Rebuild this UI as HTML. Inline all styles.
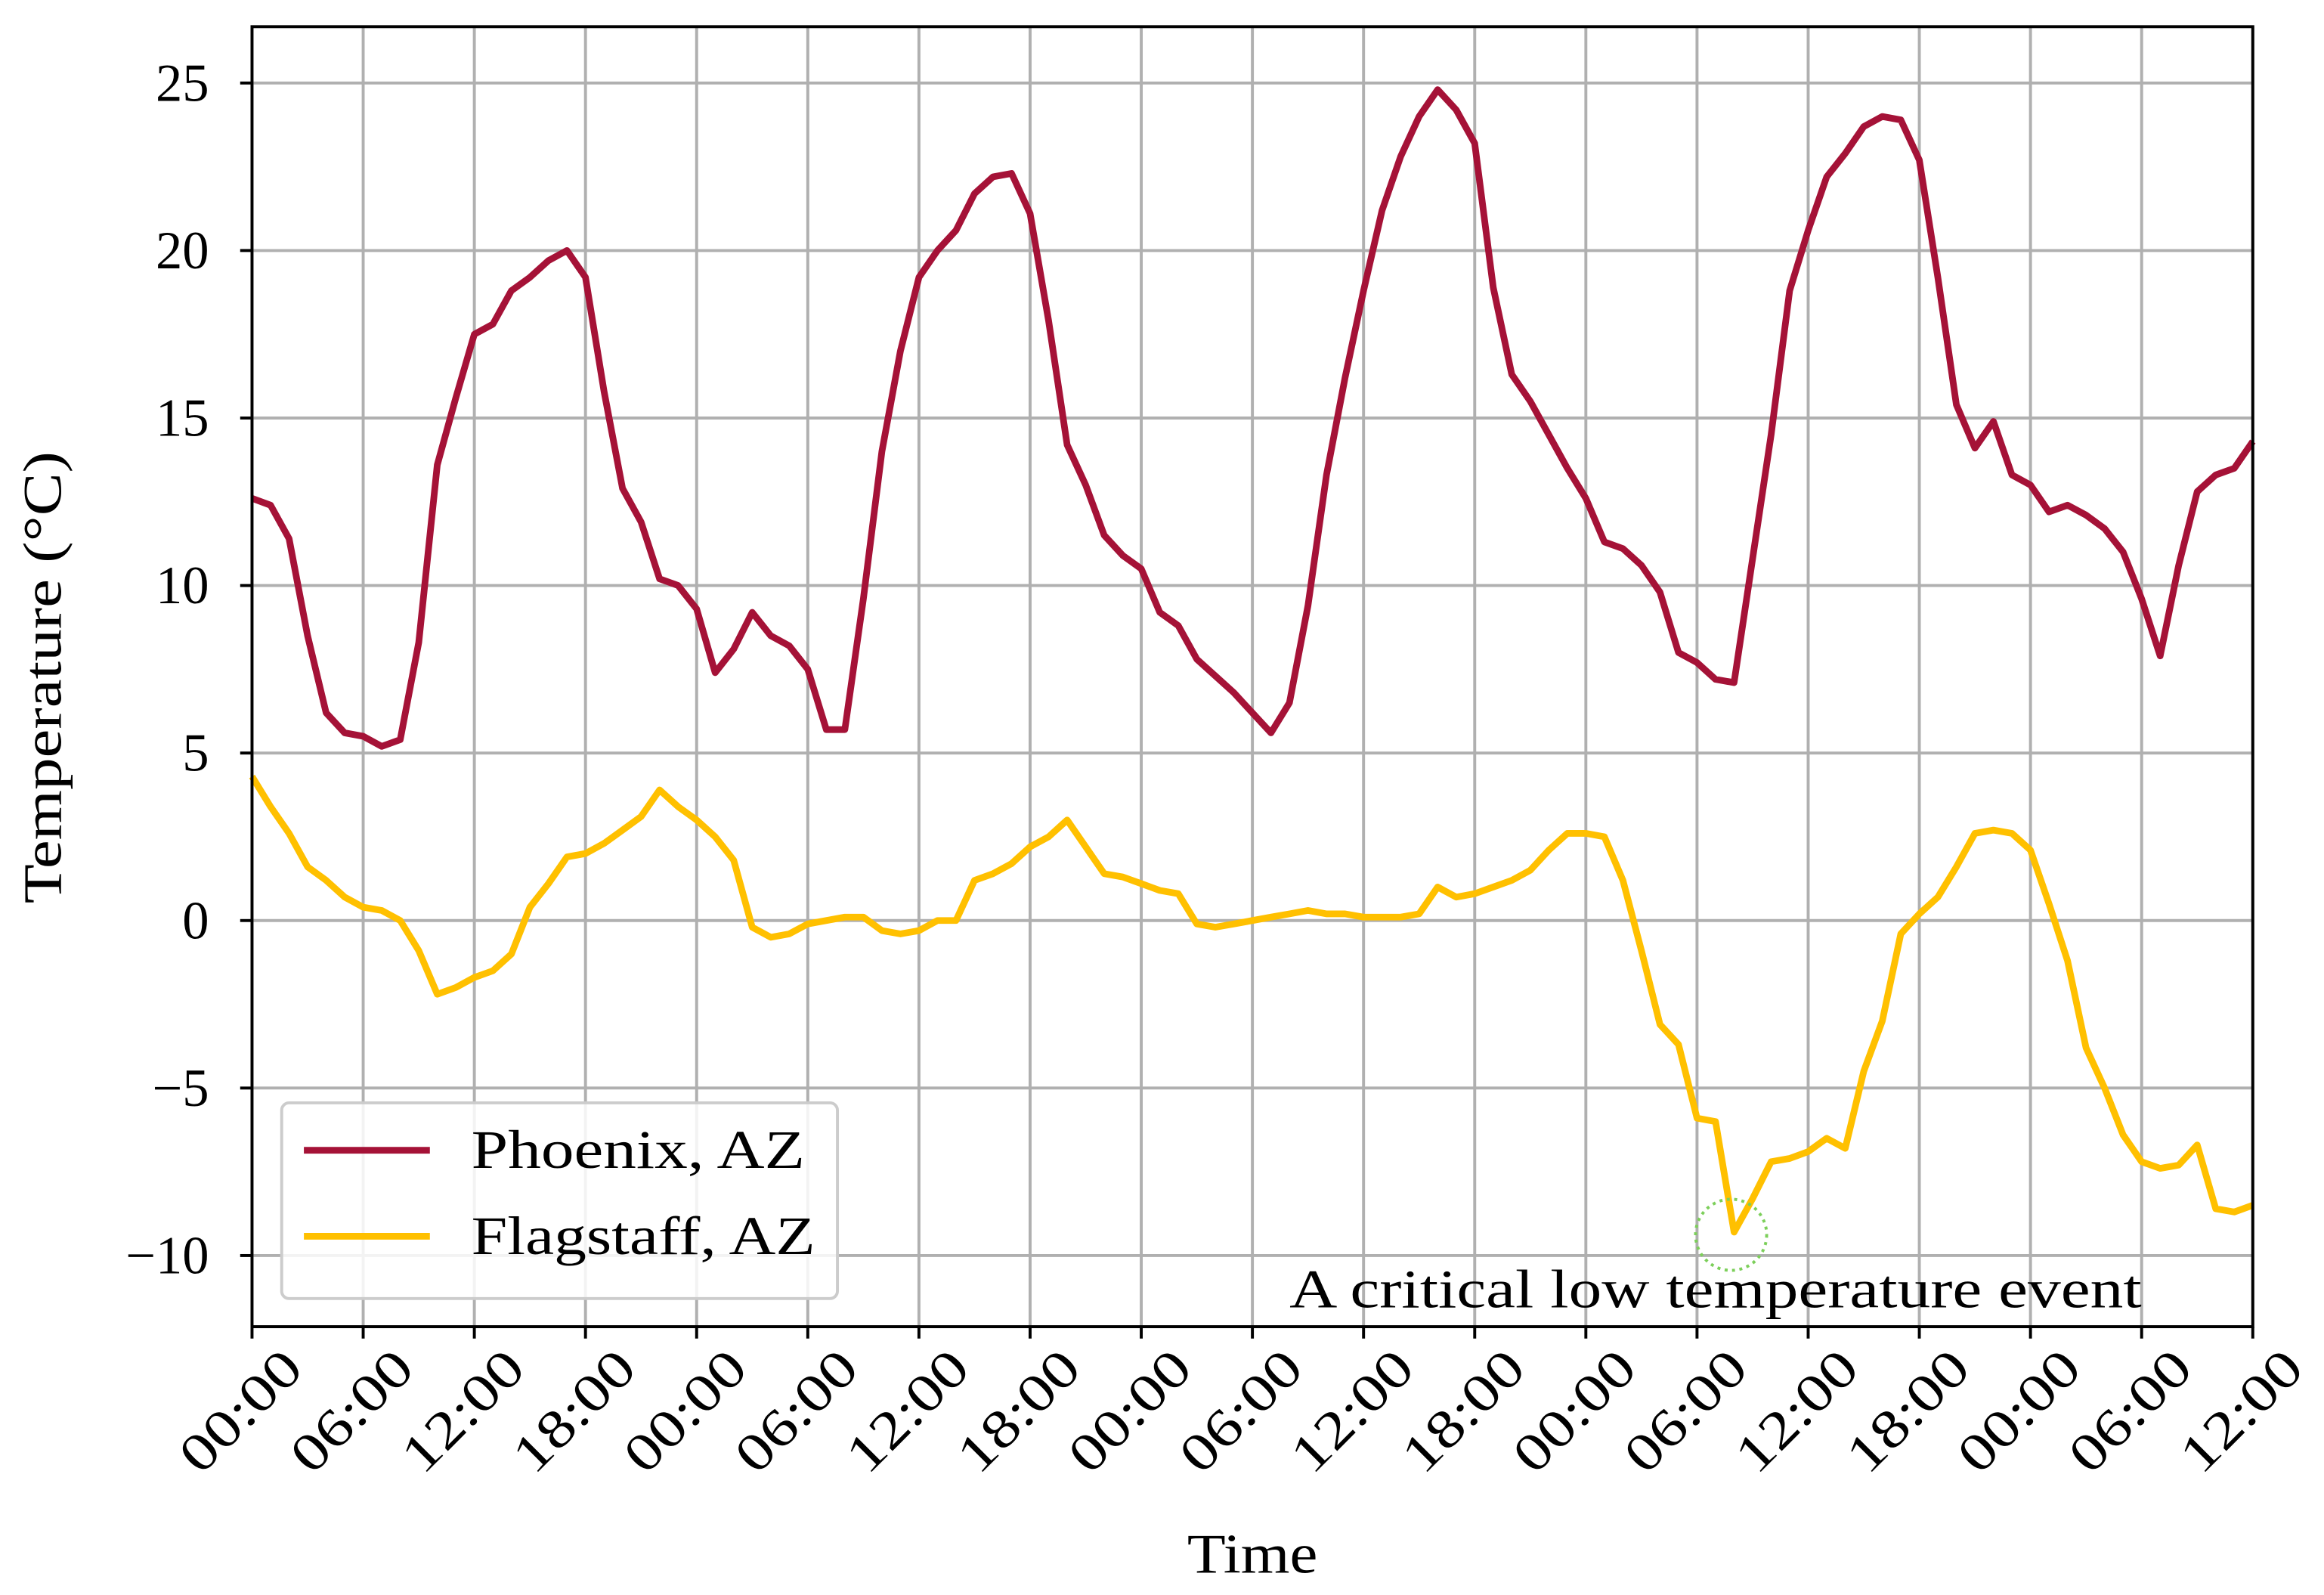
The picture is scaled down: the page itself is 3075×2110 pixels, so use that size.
<!DOCTYPE html>
<html><head><meta charset="utf-8"><style>
html,body{margin:0;padding:0;background:#fff;}
svg{display:block;font-family:"Liberation Serif",serif;}
</style></head><body>
<svg id="chart" width="3075" height="2110" viewBox="0 0 1568 1076" xmlns="http://www.w3.org/2000/svg">
<g id="grid"></g>
<g id="series"></g>
<rect x="170" y="18" width="1350" height="877" fill="none" stroke="#000" stroke-width="2"/>
<g id="axes"></g>
<text transform="translate(41,457) rotate(-90)" text-anchor="middle" font-size="37" textLength="305" lengthAdjust="spacingAndGlyphs">Temperature (°C)</text>
<text x="845" y="1061" text-anchor="middle" font-size="38" textLength="88" lengthAdjust="spacingAndGlyphs">Time</text>
<circle cx="1168" cy="833" r="24" fill="none" stroke="#7ccf5a" stroke-width="2" stroke-dasharray="2,3"/>
<text x="870" y="882" font-size="37" textLength="575" lengthAdjust="spacingAndGlyphs">A critical low temperature event</text>
<g>
<rect x="190" y="744" width="375" height="132" rx="5" fill="#fff" fill-opacity="0.85" stroke="#ccc" stroke-width="2"/>
<line x1="205" y1="776" x2="290" y2="776" stroke="#a51237" stroke-width="4.5"/>
<text x="318" y="788" font-size="37" textLength="225" lengthAdjust="spacingAndGlyphs">Phoenix, AZ</text>
<line x1="205" y1="834" x2="290" y2="834" stroke="#ffc000" stroke-width="4.5"/>
<text x="318" y="846" font-size="37" textLength="232" lengthAdjust="spacingAndGlyphs">Flagstaff, AZ</text>
</g>
</svg>
<script>
const xTickLabels = ["00:00","06:00","12:00","18:00","00:00","06:00","12:00","18:00","00:00","06:00","12:00","18:00","00:00","06:00","12:00","18:00","00:00","06:00","12:00"];
const yTicks = [-10,-5,0,5,10,15,20,25];
const phoenix = [12.6,12.4,11.4,8.5,6.2,5.6,5.5,5.2,5.4,8.3,13.6,15.6,17.5,17.8,18.8,19.2,19.7,20.0,19.2,15.8,12.9,11.9,10.2,10.0,9.3,7.4,8.1,9.2,8.5,8.2,7.5,5.7,5.7,9.6,14.0,17.0,19.2,20.0,20.6,21.7,22.2,22.3,21.1,17.9,14.2,13.0,11.5,10.9,10.5,9.2,8.8,7.8,7.3,6.8,6.2,5.6,6.5,9.4,13.3,16.2,18.8,21.2,22.8,24.0,24.8,24.2,23.2,18.9,16.3,15.5,14.5,13.5,12.6,11.3,11.1,10.6,9.8,8.0,7.7,7.2,7.1,10.8,14.5,18.8,20.6,22.2,22.9,23.7,24.0,23.9,22.7,19.2,15.4,14.1,14.9,13.3,13.0,12.2,12.4,12.1,11.7,11.0,9.6,7.9,10.6,12.8,13.3,13.5,14.3];
const flagstaff = [4.3,3.4,2.6,1.6,1.2,0.7,0.4,0.3,0.0,-0.9,-2.2,-2.0,-1.7,-1.5,-1.0,0.4,1.1,1.9,2.0,2.3,2.7,3.1,3.9,3.4,3.0,2.5,1.8,-0.2,-0.5,-0.4,-0.1,0.0,0.1,0.1,-0.3,-0.4,-0.3,0.0,0.0,1.2,1.4,1.7,2.2,2.5,3.0,2.2,1.4,1.3,1.1,0.9,0.8,-0.1,-0.2,-0.1,0.0,0.1,0.2,0.3,0.2,0.2,0.1,0.1,0.1,0.2,1.0,0.7,0.8,1.0,1.2,1.5,2.1,2.6,2.6,2.5,1.2,-0.9,-3.1,-3.7,-5.9,-6.0,-9.3,-8.3,-7.2,-7.1,-6.9,-6.5,-6.8,-4.5,-3.0,-0.4,0.2,0.7,1.6,2.6,2.7,2.6,2.1,0.5,-1.2,-3.8,-5.0,-6.4,-7.2,-7.4,-7.3,-6.7,-8.6,-8.7,-8.5];
const NS="http://www.w3.org/2000/svg";
const X0=170,X1=1520,HOURS=108;
function xs(h){return X0+(X1-X0)*h/HOURS;}
function ys(v){return 621-v*22.6;}
const grid=document.getElementById('grid'),axes=document.getElementById('axes'),series=document.getElementById('series');
function mk(tag,attrs,parent){const e=document.createElementNS(NS,tag);for(const k in attrs)e.setAttribute(k,attrs[k]);parent.appendChild(e);return e;}
xTickLabels.forEach((lab,i)=>{
  const x=xs(i*6);
  const g=mk('line',{x1:x,y1:18,x2:x,y2:895,stroke:'#b0b0b0','stroke-width':2},grid);
  
  
  const t=mk('line',{x1:x,y1:895,x2:x,y2:903,stroke:'#000','stroke-width':2},axes);
  
  
  const tx=mk('text',{transform:`translate(${x+36},${925}) rotate(-45)`,'text-anchor':'end','font-size':36,textLength:100,lengthAdjust:'spacingAndGlyphs'},axes);
  tx.textContent=lab;
  
  
});
yTicks.forEach(v=>{
  const y=ys(v);
  const g=mk('line',{x1:170,y1:y,x2:1520,y2:y,stroke:'#b0b0b0','stroke-width':2},grid);
  
  
  const t=mk('line',{x1:162,y1:y,x2:170,y2:y,stroke:'#000','stroke-width':2},axes);
  
  
  const tx=mk('text',{x:141,y:y+12,'text-anchor':'end','font-size':36},axes);
  tx.textContent=v<0?'\u2212'+Math.abs(v):String(v);
  
  
});
function line(data,color,name){
  const d=data.map((v,i)=>(i?'L':'M')+xs(i).toFixed(1)+','+ys(v).toFixed(1)).join('');
  const p=mk('path',{d:d,fill:'none',stroke:color,'stroke-width':4.5,'stroke-linejoin':'round'},series);
  
  
}
line(phoenix,'#a51237','phoenix-line');
line(flagstaff,'#ffc000','flagstaff-line');
</script>
</body></html>
